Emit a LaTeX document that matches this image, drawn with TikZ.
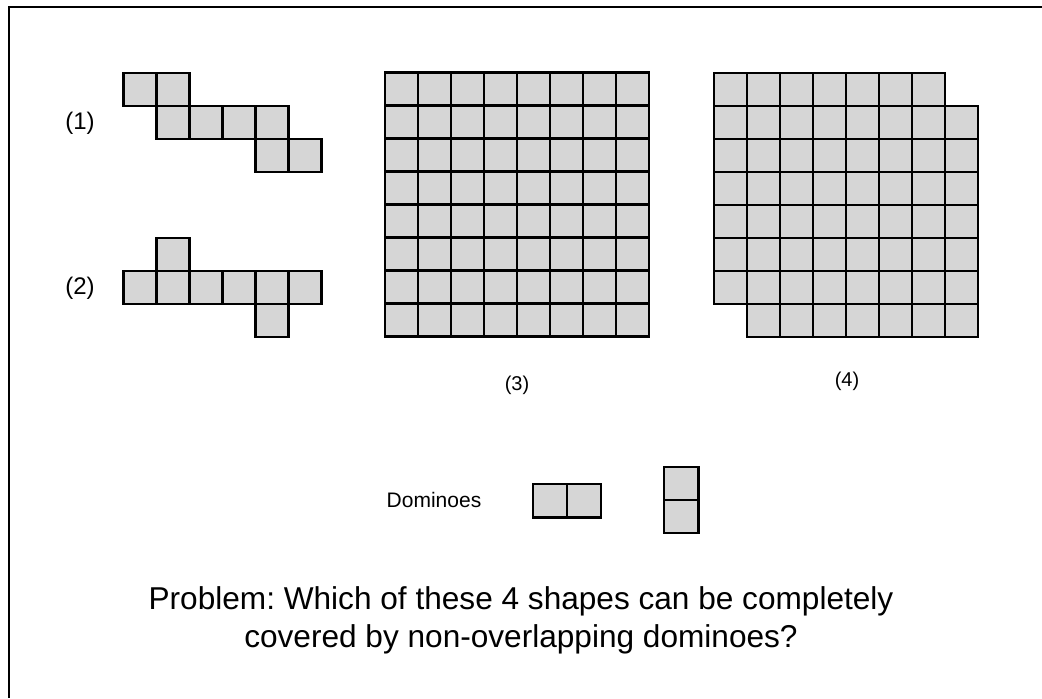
\documentclass[tikz,border=0pt]{standalone}
\usepackage{fontspec}
\setmainfont{Liberation Sans}
\usetikzlibrary{positioning}
\frenchspacing

\begin{document}
\begin{tikzpicture}[x=0.5pt, y=-0.5pt,
  cell/.style     = {draw=black, fill=black!16, line width=1.2pt},
  frame/.style    = {draw=black, line width=1.1pt},
  lbl/.style      = {font=\fontsize{10}{12}\selectfont, inner sep=0pt},
  biglbl/.style   = {lbl, font=\fontsize{12}{14}\selectfont},
  probtext/.style = {font=\fontsize{15.8}{19}\selectfont, align=center, inner sep=0pt},
]
\useasboundingbox (0,0) rectangle (1042,698);
% frame, only top and left edges
\draw[frame] (1042,7) -- (9,7) -- (9,698);

% shape (1)
\foreach \i/\j in {0/0,1/0,1/1,2/1,3/1,4/1,4/2,5/2}
  \draw[cell] (123.5+33*\i, 73+33*\j) rectangle ++(33,33);
\node[biglbl] (lab1) at (80,123) {(1)};

% shape (2)
\foreach \i/\j in {1/0,0/1,1/1,2/1,3/1,4/1,5/1,4/2}
  \draw[cell] (123.5+33*\i, 238+33*\j) rectangle ++(33,33);
\node[biglbl] (lab2) at (80,288) {(2)};

% shape (3): full 8x8 board
\foreach \i in {0,...,7}
  \foreach \j in {0,...,7}
    \draw[cell] (385+33*\i, 72.5+33*\j) rectangle ++(33,33);
\node[lbl] (lab3) at (517,385) {(3)};

% shape (4): two opposite corners cut off
\foreach \i in {0,...,7}
  \foreach \j in {0,...,7} {
    \ifnum\i\j=70 \else\ifnum\i\j=7 \else
      \draw[cell] (714+33*\i, 73+33*\j) rectangle ++(33,33);
    \fi\fi
  }
\node[lbl] (lab4) at (847,381) {(4)};

% dominoes
\node[lbl, font=\fontsize{10.5}{12}\selectfont] (dom) at (434,500) {Dominoes};
\foreach \i in {0,1}
  \draw[cell] (533+34*\i, 484) rectangle ++(34,33.5);
\foreach \j in {0,1}
  \draw[cell] (664, 467+33*\j) rectangle ++(34.5,33);

\node[probtext] (prob) at (521,620)
  {Problem: Which of these 4 shapes can be completely\\
   covered by non-overlapping dominoes?};
\end{tikzpicture}
\end{document}
